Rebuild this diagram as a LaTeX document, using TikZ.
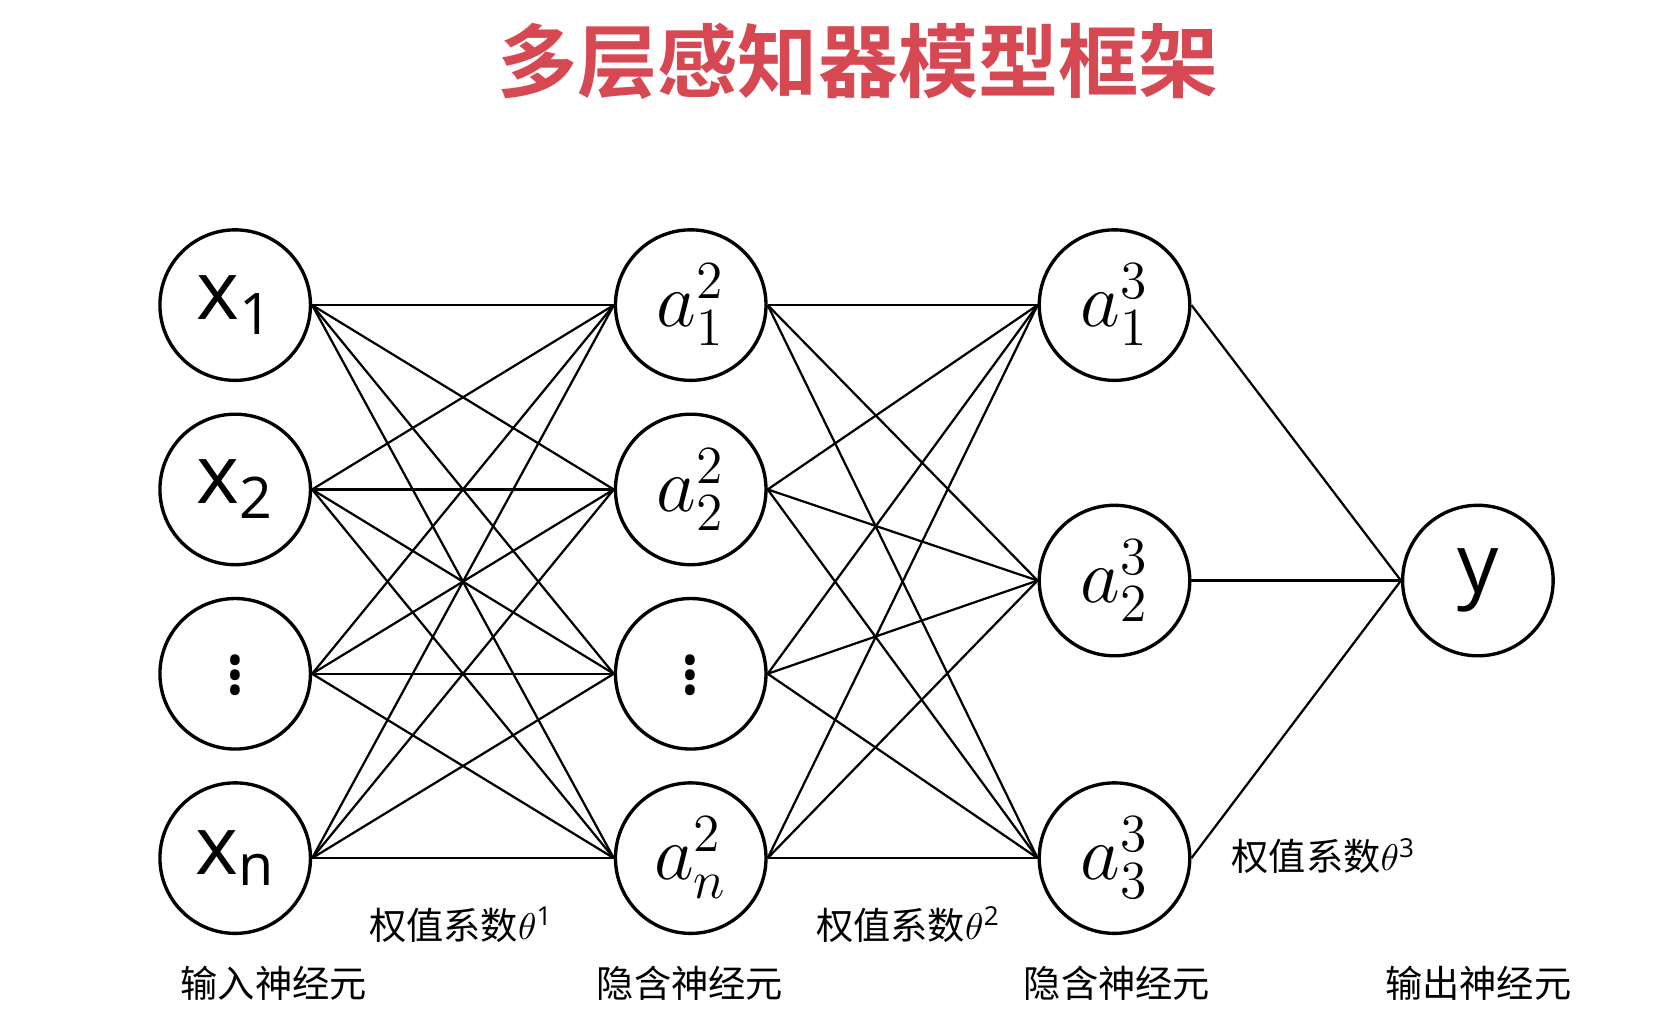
\documentclass[tikz,border=0pt]{standalone}
\usepackage{fontspec}
\setmainfont{Open Sans}
\newfontfamily\cjk{Noto Sans CJK SC}
\newfontfamily\cjkb{Noto Sans CJK SC Bold}
\definecolor{titlered}{RGB}{214,72,82}
\newcommand{\vdt}{\raisebox{0.25em}{$\vdots$}}
\newcommand{\thsup}[1]{$\theta^{\textstyle\raisebox{-0.15em}{\fontsize{9}{10}\selectfont#1}}$}
\begin{document}
\begin{tikzpicture}[x=0.01cm,y=-0.01cm,
  neuron/.style={circle,draw,line width=0.9pt,minimum size=1.42cm,inner sep=0pt,font=\fontsize{22}{24}\selectfont},
  conn/.style={line width=0.6pt},
  lab/.style={font=\cjk\fontsize{10}{12}\selectfont,anchor=west}]
\useasboundingbox (0,0) rectangle (1565,952);
\node[font=\cjkb\fontsize{21.5}{24}\selectfont,text=titlered] (title) at (810,58) {多层感知器模型框架};
\node[neuron] (x1) at (222,288) {x\textsubscript{1}};
\node[neuron] (x2) at (222,462) {x\textsubscript{2}};
\node[neuron] (x3) at (222,636) {\vdt};
\node[neuron] (x4) at (222,810) {x\textsubscript{n}};
\node[neuron] (h1) at (652,288) {$a_1^2$};
\node[neuron] (h2) at (652,462) {$a_2^2$};
\node[neuron] (h3) at (652,636) {\vdt};
\node[neuron] (h4) at (652,810) {$a_n^2$};
\node[neuron] (g1) at (1052,288) {$a_1^3$};
\node[neuron] (g2) at (1052,548) {$a_2^3$};
\node[neuron] (g3) at (1052,810) {$a_3^3$};
\node[neuron] (y) at (1395,548) {y};
\foreach \i in {1,...,4}{\foreach \j in {1,...,4}{\draw[conn] (x\i.east) -- (h\j.west);}}
\foreach \i in {1,...,4}{\foreach \j in {1,...,3}{\draw[conn] (h\i.east) -- (g\j.west);}}
\foreach \j in {1,...,3}{\draw[conn] (g\j.east) -- (y.west);}
\node[lab] (w1) at (336,873) {权值系数$\theta^{\mathrm{1}}$};
\node[lab] (w2) at (758,873) {权值系数$\theta^{\mathrm{2}}$};
\node[lab] (w3) at (1150,808) {权值系数$\theta^{\mathrm{3}}$};
\node[lab] (l1) at (158,928) {输入神经元};
\node[lab] (l2) at (551,928) {隐含神经元};
\node[lab] (l3) at (954,928) {隐含神经元};
\node[lab] (l4) at (1295,928) {输出神经元};
\end{tikzpicture}
\end{document}
